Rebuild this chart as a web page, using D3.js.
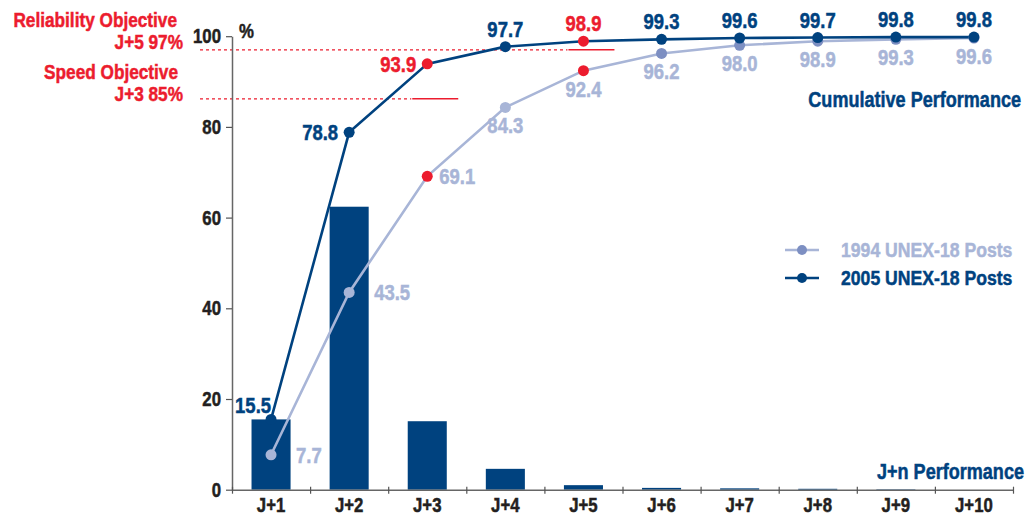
<!DOCTYPE html>
<html>
<head>
<meta charset="utf-8">
<script src="https://cdn.jsdelivr.net/npm/d3@7"></script>
<style>
  body { margin: 0; background: #fff; }
  svg text { font-family: "Liberation Sans", Arial, sans-serif; font-weight: bold; }
</style>
</head>
<body>
<div id="chart"></div>
<script>
// chart values
const categories = ['J+1', 'J+2', 'J+3', 'J+4', 'J+5', 'J+6', 'J+7', 'J+8', 'J+9', 'J+10'];
const daily2005 = [15.5, 62.4, 15.1, 4.6, 1.0, 0.4, 0.3, 0.2, 0.1, 0];
const cumul2005 = [15.5, 78.8, 93.9, 97.7, 98.9, 99.3, 99.6, 99.7, 99.8, 99.8];
const cumul1994 = [7.7, 43.5, 69.1, 84.3, 92.4, 96.2, 98.0, 98.9, 99.3, 99.6];
const yTicks = [0, 20, 40, 60, 80, 100];
const objectives = [
  { title: 'Reliability Objective', sub: 'J+5 97%', level: 97, cat: 'J+5' },
  { title: 'Speed Objective', sub: 'J+3 85%', level: 86.2, cat: 'J+3' } // drawn where the picture puts it
];
const seriesNames = ['1994 UNEX-18 Posts', '2005 UNEX-18 Posts'];

const DARK = '#00427f', LIGHT = '#a8b5d7', MID = '#7d8fc2', RED = '#ec1c2e', INK = '#231f20';
const SQUEEZE = 0.84; // reference uses a condensed face

const width = 1028, height = 515;
const svg = d3.select('#chart').append('svg')
  .attr('width', width).attr('height', height);

const x = d3.scaleBand().domain(categories).range([232, 1013])
  .paddingInner(0.5).paddingOuter(0.25);
const cx = (c) => x(c) + x.bandwidth() / 2;
const y = d3.scaleLinear().domain([0, 100]).range([489.7, 36.2]);
const bounds = d3.scaleLinear().domain([0, categories.length]).range([232, 1013]);

// objective lines
objectives.forEach((o) => {
  const yy = y(o.level);
  const xc = cx(o.cat);
  svg.append('line')
    .attr('x1', 200).attr('x2', xc - 16).attr('y1', yy).attr('y2', yy)
    .attr('stroke', RED).attr('stroke-width', 1.2).attr('stroke-dasharray', '3,3');
  svg.append('line')
    .attr('x1', xc - 15).attr('x2', xc + 31).attr('y1', yy).attr('y2', yy)
    .attr('stroke', RED).attr('stroke-width', 1.5);
});
[[objectives[0].title, 177, 27], [objectives[0].sub, 183, 49],
 [objectives[1].title, 178, 79], [objectives[1].sub, 183, 101]].forEach(([t, tx, ty]) => {
  svg.append('text').attr('x', tx).attr('y', ty).attr('text-anchor', 'end')
    .attr('fill', RED).style('font-size', '20.5px').text(t);
});

// bars
svg.append('g').selectAll('rect')
  .data(daily2005.map((v, i) => ({ c: categories[i], v })))
  .join('rect')
  .attr('x', (d) => x(d.c))
  .attr('y', (d) => y(d.v))
  .attr('width', x.bandwidth())
  .attr('height', (d) => y(0) - y(d.v))
  .attr('fill', DARK);

// y axis
const yAxis = svg.append('g').attr('transform', 'translate(232,0)')
  .call(d3.axisLeft(y).tickValues(yTicks).tickSize(6).tickSizeOuter(0).tickPadding(5));
yAxis.select('.domain').attr('stroke', '#666').attr('stroke-width', 1.5);
yAxis.selectAll('.tick line').attr('stroke', '#555').attr('stroke-width', 1.2);
yAxis.selectAll('.tick text').attr('fill', INK).style('font-size', '20px')
  .style('font-family', '"Liberation Sans", Arial, sans-serif');
svg.append('text').attr('x', 239).attr('y', 38).attr('fill', INK)
  .style('font-size', '20px').text('%');

// x axis
const xAxis = svg.append('g').attr('transform', `translate(0,${y(0)})`)
  .call(d3.axisBottom(bounds).tickValues(d3.range(categories.length + 1)).tickSize(4).tickSizeOuter(0).tickFormat(''));
xAxis.select('.domain').attr('stroke', '#666').attr('stroke-width', 1.5);
xAxis.selectAll('.tick line').attr('y1', -3).attr('stroke', '#555').attr('stroke-width', 1.2);
svg.append('g').selectAll('text')
  .data(categories).join('text')
  .attr('x', (d) => cx(d)).attr('y', 512)
  .attr('text-anchor', 'middle').attr('fill', INK).style('font-size', '20px')
  .text((d) => d);

// lines
const line = d3.line().x((d, i) => cx(categories[i])).y((d) => y(d));
svg.append('path').datum(cumul1994).attr('d', line)
  .attr('fill', 'none').attr('stroke', LIGHT).attr('stroke-width', 2.6);
svg.append('path').datum(cumul2005).attr('d', line)
  .attr('fill', 'none').attr('stroke', DARK).attr('stroke-width', 2.6);

const redCats = ['J+3', 'J+5'];
const early = ['J+1', 'J+2', 'J+3', 'J+4', 'J+5'];

svg.append('g').selectAll('circle')
  .data(cumul1994.map((v, i) => ({ c: categories[i], v })))
  .join('circle')
  .attr('cx', (d) => cx(d.c)).attr('cy', (d) => y(d.v)).attr('r', 5.5)
  .attr('fill', (d) => redCats.includes(d.c) ? RED : (early.includes(d.c) ? LIGHT : MID));
svg.append('g').selectAll('circle')
  .data(cumul2005.map((v, i) => ({ c: categories[i], v })))
  .join('circle')
  .attr('cx', (d) => cx(d.c)).attr('cy', (d) => y(d.v)).attr('r', 5.5)
  .attr('fill', (d) => redCats.includes(d.c) ? RED : DARK);

// value labels 2005
svg.append('g').selectAll('text')
  .data(cumul2005.map((v, i) => ({ c: categories[i], v, i })))
  .join('text')
  .attr('x', (d) => d.i === 0 ? cx(d.c) : d.i < 3 ? cx(d.c) - 11 : cx(d.c))
  .attr('y', (d) => d.i === 0 ? y(d.v) - 6 : d.i < 3 ? y(d.v) + 8 : y(d.v) - 10)
  .attr('text-anchor', (d) => d.i < 3 ? 'end' : 'middle')
  .attr('fill', (d) => redCats.includes(d.c) ? RED : DARK)
  .style('font-size', '22px')
  .text((d) => d.v.toFixed(1));

// value labels 1994
svg.append('g').selectAll('text')
  .data(cumul1994.map((v, i) => ({ c: categories[i], v, i })))
  .join('text')
  .attr('x', (d) => d.i < 2 ? cx(d.c) + 25 : d.i === 2 ? cx(d.c) + 12 : cx(d.c))
  .attr('y', (d) => d.i < 3 ? y(d.v) + 8 : y(d.v) + 26)
  .attr('text-anchor', (d) => d.i < 3 ? 'start' : 'middle')
  .attr('fill', LIGHT)
  .style('font-size', '22px')
  .text((d) => d.v.toFixed(1));

// legend
const legend = svg.append('g').attr('transform', 'translate(785,250)');
[[LIGHT, MID, LIGHT], [DARK, DARK, DARK]].forEach(([lc, pc, tc], i) => {
  const g = legend.append('g').attr('transform', `translate(0,${i * 28})`);
  g.append('line').attr('x1', 0).attr('x2', 34).attr('stroke', lc).attr('stroke-width', 2.6);
  g.append('circle').attr('cx', 17).attr('r', 5).attr('fill', pc);
  g.append('text').attr('x', 56).attr('y', 7).attr('fill', tc)
    .style('font-size', '21px').text(seriesNames[i]);
});

svg.append('text').attr('x', 1021).attr('y', 107).attr('text-anchor', 'end')
  .attr('fill', DARK).style('font-size', '21.5px').text('Cumulative Performance');
svg.append('text').attr('x', 1024).attr('y', 479).attr('text-anchor', 'end')
  .attr('fill', DARK).style('font-size', '21.5px').text('J+n Performance');

// condense every label horizontally around its anchor point, and thicken it a little
svg.selectAll('text').each(function () {
  const x0 = +this.getAttribute('x') || 0;
  const y0 = +this.getAttribute('y') || 0;
  const prev = this.getAttribute('transform') || '';
  this.setAttribute('transform',
    `${prev} translate(${x0},${y0}) scale(${SQUEEZE},1) translate(${-x0},${-y0})`);
  const fill = this.getAttribute('fill') || INK;
  d3.select(this).attr('stroke', fill).attr('stroke-width', 0.5);
});
</script>
</body>
</html>
